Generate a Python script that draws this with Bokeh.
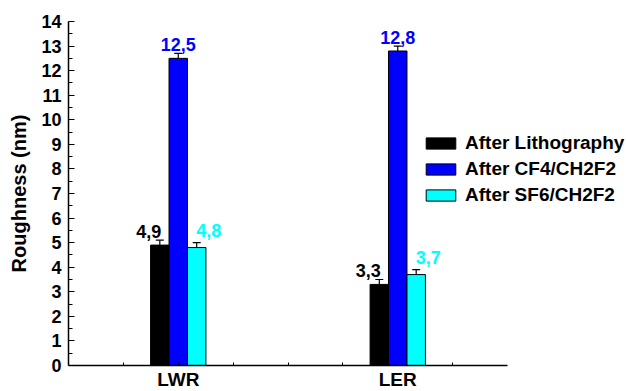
from bokeh.plotting import figure
from bokeh.models import (ColumnDataSource, FixedTicker, Legend, LegendItem,
                          Range1d, Whisker, TeeHead)
from bokeh.core.properties import value
from bokeh.embed import file_html
from bokeh.resources import INLINE

# ---- data ----
categories = ["LWR", "LER"]
group_pos = [1, 2]
series_names = ["After Lithography", "After CF4/CH2F2", "After SF6/CH2F2"]
lithography = [4.9, 3.3]
cf4_ch2f2 = [12.5, 12.8]
sf6_ch2f2 = [4.8, 3.7]
err_lithography = [0.2, 0.2]
err_cf4_ch2f2 = [0.2, 0.2]
err_sf6_ch2f2 = [0.2, 0.2]
y_ticks = list(range(0, 15))

# ---- styling ----
colors = ["#000000", "#0000FF", "#00FFFF"]
label_colors = ["#000000", "#0000FF", "#00FFFF"]
offsets = [-0.084, 0.0, 0.084]
bar_width = 0.084
label_x_px = [-11, 0, 12]
label_gap_px = [9, 9, 12]
FONT = "Liberation Sans"

LEFT, TOP = 68, 21
FRAME_W, FRAME_H = 558, 344
px_per_unit = 219.5
py_per_unit = FRAME_H / 14.0

p = figure(frame_width=FRAME_W, frame_height=FRAME_H,
           output_backend="svg", toolbar_location=None,
           x_range=Range1d(0.5, 0.5 + FRAME_W / px_per_unit),
           y_range=Range1d(0, 14),
           min_border_left=LEFT, min_border_top=TOP, min_border_right=0,
           min_border_bottom=0)
p.outline_line_color = None
p.xgrid.grid_line_color = None
p.ygrid.grid_line_color = None
p.background_fill_color = "white"

values_all = [lithography, cf4_ch2f2, sf6_ch2f2]
errs_all = [err_lithography, err_cf4_ch2f2, err_sf6_ch2f2]
renderers = []
for i, (vals, errs) in enumerate(zip(values_all, errs_all)):
    xs = [g + offsets[i] for g in group_pos]
    upper = [v + e for v, e in zip(vals, errs)]
    src = ColumnDataSource(dict(
        x=xs, top=vals, upper=upper,
        lower=[v - e for v, e in zip(vals, errs)],
        label_y=[u + label_gap_px[i] / py_per_unit for u in upper],
        label=[f"{v:.1f}".replace(".", ",") for v in vals],
    ))
    r = p.vbar(x="x", top="top", width=bar_width, bottom=0, source=src,
               fill_color=colors[i], line_color="#000000", line_width=1)
    renderers.append(r)
    w = Whisker(base="x", upper="upper", lower="lower", source=src,
                line_color="black", line_width=1.2,
                upper_head=TeeHead(size=8, line_color="black", line_width=1.2),
                lower_head=TeeHead(size=8, line_color="black", line_width=1.2))
    p.add_layout(w)
    p.text(x="x", y="label_y", text="label", source=src,
           x_offset=label_x_px[i],
           text_align="center", text_baseline="alphabetic",
           text_font=value(FONT), text_font_style="bold",
           text_font_size="18px", text_color=label_colors[i])

# ---- axes ----
yax = p.yaxis[0]
yax.ticker = FixedTicker(ticks=y_ticks,
                         minor_ticks=[t + 0.5 for t in y_ticks[:-1]])
yax.bounds = (0, 14)
yax.axis_label = "Roughness (nm)"
yax.axis_label_text_font = FONT
yax.axis_label_text_font_style = "bold"
yax.axis_label_text_font_size = "20px"
yax.axis_label_text_color = "black"
yax.axis_label_standoff = 8
yax.major_label_text_font = FONT
yax.major_label_text_font_style = "bold"
yax.major_label_text_font_size = "18px"
yax.major_label_text_color = "black"
yax.major_label_standoff = 7
yax.major_tick_in = 6
yax.major_tick_out = 0
yax.minor_tick_in = 4
yax.minor_tick_out = 0
yax.axis_line_width = 1.5
yax.axis_line_color = "black"
yax.major_tick_line_color = "black"
yax.minor_tick_line_color = "black"
yax.major_tick_line_width = 1
yax.minor_tick_line_width = 1

xax = p.xaxis[0]
xax.ticker = FixedTicker(ticks=group_pos, minor_ticks=[0.75, 1.25, 1.5, 1.75, 2.25])
xax.major_label_overrides = {g: c for g, c in zip(group_pos, categories)}
xax.bounds = (0.5, 2.5)
xax.major_label_text_font = FONT
xax.major_label_text_font_style = "bold"
xax.major_label_text_font_size = "19px"
xax.major_label_text_color = "black"
xax.major_label_standoff = 3
xax.major_tick_in = 3
xax.major_tick_out = 0
xax.minor_tick_in = 3
xax.minor_tick_out = 0
xax.axis_line_width = 1.5
xax.axis_line_color = "black"
xax.major_tick_line_color = "black"
xax.minor_tick_line_color = "black"

# ---- legend ----
legend = Legend(items=[LegendItem(label=n, renderers=[r])
                       for n, r in zip(series_names, renderers)],
                location=(354, 159), orientation="vertical",
                glyph_width=37, glyph_height=14, label_height=14,
                label_standoff=6, spacing=4, padding=0, margin=0,
                border_line_alpha=0, background_fill_alpha=0,
                label_text_font=FONT, label_text_font_style="bold",
                label_text_font_size="19px", label_text_color="black")
p.add_layout(legend)

open("out.html", "w").write(file_html(p, INLINE))
